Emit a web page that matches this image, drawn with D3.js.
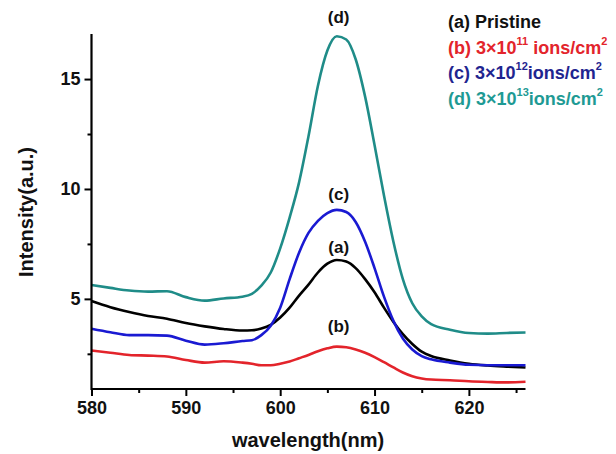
<!DOCTYPE html>
<html><head><meta charset="utf-8">
<script src="https://cdn.jsdelivr.net/npm/d3@7"></script>
<style>
body{margin:0;background:#fff;}
text{font-family:"Liberation Sans",Arial,sans-serif;font-weight:bold;}
</style></head>
<body><svg id="c" width="616" height="454"></svg>
<script>
const wavelength = [580,582,584,586,588,590,592,594,596,597,598,599,600,601,602,603,604,605,606,607,608,609,610,611,612,613,614,615,616,618,620,622,624,626];
const pristine = [4.9,4.62,4.4,4.22,4.1,3.9,3.75,3.63,3.56,3.57,3.65,3.82,4.15,4.6,5.15,5.65,6.2,6.6,6.77,6.7,6.4,5.9,5.3,4.6,3.95,3.4,2.95,2.6,2.4,2.2,2.05,1.97,1.92,1.88];
const dose11 = [2.65,2.55,2.45,2.42,2.38,2.22,2.1,2.16,2.1,2.05,1.98,1.98,2.05,2.15,2.3,2.45,2.62,2.75,2.83,2.8,2.7,2.55,2.35,2.12,1.88,1.65,1.48,1.38,1.33,1.3,1.25,1.22,1.2,1.23];
const dose12 = [3.64,3.48,3.35,3.35,3.33,3.1,2.92,2.98,3.08,3.12,3.35,3.78,4.6,5.9,7.1,8.0,8.55,8.9,9.05,8.95,8.5,7.6,6.4,5.1,4.0,3.2,2.7,2.4,2.25,2.1,2.0,1.98,1.98,1.98];
const dose13 = [5.63,5.5,5.38,5.33,5.35,5.08,4.92,5.02,5.1,5.23,5.6,6.2,7.3,8.7,10.3,12.4,14.7,16.3,16.95,16.8,15.9,14.2,12.0,9.7,7.6,5.9,4.8,4.2,3.85,3.6,3.45,3.42,3.45,3.47];
const xTicks = [580,590,600,610,620];
const xMinor = [585,595,605,615,625];
const yTicks = [5,10,15];
const yMinor = [2.5,7.5,12.5];
const seriesNames = ["(a)","(b)","(c)","(d)"];
const seriesColors = ["#000000","#e3242b","#1a1ad2","#1f8c88"];
const labelValues = [7.35,3.75,9.75,17.8];
const labelX = 606.2;

const svg = d3.select("#c");
const x = d3.scaleLinear().domain([580,626]).range([91.5,525.5]);
const y = d3.scaleLinear().domain([0.9,17.05]).range([389,34]);

const seriesData = [pristine,dose11,dose12,dose13];
const line = d3.line().x(d=>x(d[0])).y(d=>y(d[1])).curve(d3.curveMonotoneX);
const order = [3,0,2,1];
order.forEach(i=>{
  svg.append("path").datum(wavelength.map((w,k)=>[w,seriesData[i][k]]))
    .attr("d",line).attr("fill","none").attr("stroke",seriesColors[i]).attr("stroke-width",2.6)
    .attr("stroke-linejoin","round");
});

// axes
const xAxis = svg.append("g").attr("transform","translate(0,389)")
  .call(d3.axisBottom(x).tickValues(xTicks).tickSize(7).tickPadding(5).tickFormat(d3.format("d")));
svg.append("g").attr("transform","translate(0,389)")
  .call(d3.axisBottom(x).tickValues(xMinor).tickSize(4).tickFormat(""))
  .call(g=>g.select(".domain").remove());
const yAxis = svg.append("g").attr("transform","translate(91.5,0)")
  .call(d3.axisLeft(y).tickValues(yTicks).tickSize(7).tickPadding(4).tickFormat(d3.format("d")));
svg.append("g").attr("transform","translate(91.5,0)")
  .call(d3.axisLeft(y).tickValues(yMinor).tickSize(4).tickFormat(""))
  .call(g=>g.select(".domain").remove());
svg.selectAll(".domain").attr("stroke","#000").attr("stroke-width",2.2);
svg.selectAll(".tick line").attr("stroke","#000").attr("stroke-width",2);
xAxis.selectAll(".domain").attr("d","M91.5,0H525.5");
yAxis.selectAll(".domain").attr("d","M0,34V390");
svg.selectAll(".tick text").attr("font-size",18).attr("font-weight","bold").attr("fill","#111")
  .attr("font-family","'Liberation Sans',Arial,sans-serif");

// axis titles
svg.append("text").attr("x",308).attr("y",447).attr("text-anchor","middle").attr("font-size",20).attr("fill","#111").text("wavelength(nm)");
svg.append("text").attr("transform","translate(33,212) rotate(-90)").attr("text-anchor","middle").attr("font-size",20).attr("fill","#111").text("Intensity(a.u.)");

// peak labels
seriesNames.forEach((n,i)=>{
  svg.append("text").attr("x",x(labelX)).attr("y",y(labelValues[i])).attr("dy","0.35em")
    .attr("text-anchor","middle").attr("font-size",17).attr("fill","#111").text(n);
});

// legend
const legendColors = ["#111111","#e3242b","#1f2590","#1e9a94"];
const legendPrefix = ["(a) Pristine","(b) 3\u00d710","(c) 3\u00d710","(d) 3\u00d710"];
const legendExp = [null,"11","12","13"];
legendPrefix.forEach((p,i)=>{
  const t = svg.append("text").attr("x",448).attr("y",28+i*25.5).attr("font-size",18).attr("fill",legendColors[i]);
  t.append("tspan").text(p);
  if(legendExp[i]){
    t.append("tspan").attr("font-size",11).attr("dy",-9).text(legendExp[i]);
    t.append("tspan").attr("dy",9).text(i===1?" ions/cm":"ions/cm");
    t.append("tspan").attr("font-size",11).attr("dy",-9).text("2");
  }
});
</script></body></html>
